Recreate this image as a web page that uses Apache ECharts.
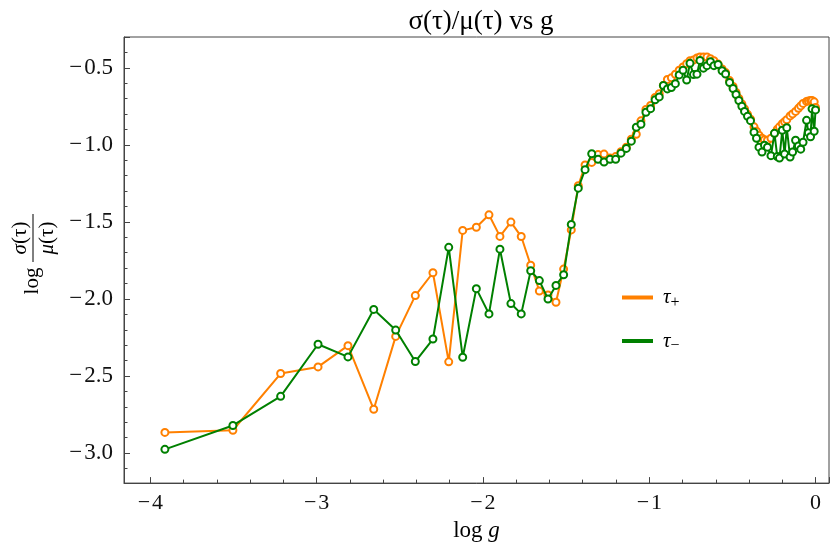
<!DOCTYPE html>
<html>
<head>
<meta charset="utf-8">
<script src="https://cdn.jsdelivr.net/npm/echarts@6/dist/echarts.min.js"></script>
<style>
html,body{margin:0;padding:0;background:#fff;}
#chart{width:830px;height:547px;}
</style>
</head>
<body>
<div id="chart"></div>
<script>
// log g values (shared grid for both series)
var logG = [
  -3.913, -3.504, -3.217, -2.992, -2.812, -2.657, -2.525, -2.407, -2.301, -2.206,
  -2.122, -2.040, -1.964, -1.898, -1.832, -1.770, -1.713, -1.661, -1.609, -1.561,
  -1.515, -1.469, -1.427,
  -1.386, -1.346, -1.308, -1.272, -1.236, -1.202, -1.170, -1.138, -1.108, -1.078,
  -1.050, -1.020, -0.992, -0.965, -0.940, -0.915, -0.891, -0.867, -0.843, -0.820,
  -0.797, -0.775, -0.755, -0.734, -0.713, -0.695, -0.674, -0.653, -0.632, -0.611,
  -0.586, -0.562, -0.541, -0.517, -0.496, -0.478, -0.461, -0.443, -0.427, -0.409,
  -0.391, -0.370, -0.355, -0.340, -0.322, -0.307, -0.289, -0.268, -0.247, -0.230,
  -0.217, -0.200, -0.186, -0.173, -0.153, -0.138, -0.120, -0.103, -0.089, -0.075,
  -0.054, -0.043, -0.030, -0.021, -0.008, 0.000
];
// log sigma/mu for tau+
var tauPlus = [
  -2.866, -2.852, -2.484, -2.441, -2.303, -2.716, -2.243, -1.978, -1.830, -2.408,
  -1.555, -1.535, -1.454, -1.594, -1.501, -1.595, -1.781, -1.948, -1.974, -2.021,
  -1.806, -1.552, -1.265,
  -1.131, -1.114, -1.063, -1.060, -1.086, -1.076, -1.045, -1.015, -0.963, -0.931,
  -0.844, -0.770, -0.744, -0.692, -0.668, -0.615, -0.576, -0.565, -0.542, -0.515,
  -0.495, -0.473, -0.454, -0.450, -0.436, -0.430, -0.430, -0.430, -0.441, -0.454,
  -0.476, -0.508, -0.531, -0.583, -0.621, -0.660, -0.699, -0.734, -0.766, -0.802,
  -0.834, -0.883, -0.912, -0.937, -0.957, -0.966, -0.970, -0.957, -0.925, -0.899,
  -0.883, -0.863, -0.850, -0.837, -0.812, -0.799, -0.783, -0.763, -0.747, -0.731,
  -0.718, -0.715, -0.712, -0.712, -0.721, -0.757
];
// log sigma/mu for tau-
var tauMinus = [
  -2.976, -2.821, -2.632, -2.294, -2.376, -2.068, -2.202, -2.406, -2.260, -1.665,
  -2.378, -1.933, -2.097, -1.677, -2.030, -2.097, -1.817, -1.881, -2.000, -1.912,
  -1.843, -1.516, -1.281,
  -1.161, -1.058, -1.094, -1.112, -1.094, -1.094, -1.054, -1.023, -0.976, -0.886,
  -0.866, -0.788, -0.765, -0.708, -0.689, -0.615, -0.637, -0.628, -0.603, -0.546,
  -0.516, -0.579, -0.471, -0.544, -0.541, -0.452, -0.502, -0.486, -0.460, -0.486,
  -0.479, -0.519, -0.540, -0.595, -0.634, -0.673, -0.712, -0.750, -0.783, -0.815,
  -0.843, -0.918, -0.957, -1.015, -1.047, -1.002, -1.015, -1.070, -0.925, -1.076,
  -1.086, -0.905, -1.060, -0.889, -1.079, -1.047, -0.970, -1.008, -1.028, -0.983,
  -0.841, -0.921, -0.947, -0.766, -0.912, -0.773
];

function pairs(xs, ys) { return xs.map(function (x, i) { return [x, ys[i]]; }); }

var ORANGE = '#ff8000', GREEN = '#008000', FRAME = '#444', FONT = 'Liberation Serif';
var chart = echarts.init(document.getElementById('chart'), null, {renderer: 'canvas'});

function minus(s) { return s.replace('-', '\u2212\u200a'); }

chart.setOption({
  animation: false,
  backgroundColor: '#fff',
  title: {
    text: '\u03c3(\u03c4)/\u03bc(\u03c4) vs g',
    left: 476, top: 3, textAlign: 'center',
    textStyle: {fontFamily: FONT, fontSize: 27, fontWeight: 'normal', color: '#000'}
  },
  grid: {left: 124, top: 37, right: 1, bottom: 61, show: true, borderColor: FRAME, borderWidth: 1, containLabel: false},
  legend: {
    orient: 'vertical', left: 622, top: 287, padding: 0,
    itemWidth: 29, itemHeight: 2, itemGap: 19, icon: 'rect',
    data: [
      {name: 'tp', itemStyle: {color: ORANGE}},
      {name: 'tm', itemStyle: {color: GREEN}}
    ],
    formatter: function (n) { return n === 'tp' ? '{t|\u03c4}{s|+}' : '{t|\u03c4}{s|\u2212}'; },
    textStyle: {
      padding: [0, 0, 0, 6],
      rich: {
        t: {fontFamily: FONT, fontStyle: 'italic', fontSize: 21, color: '#000', lineHeight: 28, verticalAlign: 'middle'},
        s: {fontFamily: FONT, fontSize: 16, color: '#000', lineHeight: 28, verticalAlign: 'bottom', padding: [0, 0, 1, 0]}
      }
    }
  },
  xAxis: {
    type: 'value', min: -4.159, max: 0.081, minInterval: 1, maxInterval: 1,
    name: '{r|log }{i|g}', nameLocation: 'middle', nameGap: 25,
    nameTextStyle: {rich: {
      r: {fontFamily: FONT, fontSize: 23, color: '#000'},
      i: {fontFamily: FONT, fontSize: 23, fontStyle: 'italic', color: '#000'}
    }},
    axisLine: {show: true, onZero: false, lineStyle: {color: FRAME, width: 1}},
    axisTick: {show: true, inside: true, length: 6, lineStyle: {color: FRAME}},
    minorTick: {show: true, splitNumber: 5, length: 3.5, lineStyle: {color: FRAME}},
    splitLine: {show: false},
    axisLabel: {
      showMinLabel: false, showMaxLabel: false, margin: 9,
      fontFamily: FONT, fontSize: 22, color: '#111',
      formatter: function (v) { return minus(String(Math.round(v))); }
    }
  },
  yAxis: {
    type: 'value', min: -3.195, max: -0.3, minInterval: 0.5, maxInterval: 0.5,
    axisLine: {show: true, onZero: false, lineStyle: {color: FRAME, width: 1}},
    axisTick: {show: true, inside: true, length: 6, lineStyle: {color: FRAME}},
    minorTick: {show: true, splitNumber: 5, length: 3.5, lineStyle: {color: FRAME}},
    splitLine: {show: false},
    axisLabel: {
      showMinLabel: false, showMaxLabel: false, margin: 11,
      fontFamily: FONT, fontSize: 23, color: '#111',
      formatter: function (v) { return minus(v.toFixed(1)); }
    }
  },
  graphic: [{
    type: 'group', x: 33, y: 238, rotation: Math.PI / 2,
    children: [
      {type: 'line', shape: {x1: -24, y1: 0, x2: 24, y2: 0}, style: {stroke: '#000', lineWidth: 1}},
      {type: 'text', x: 0, y: -13, style: {
        text: '{i|\u03c3}(\u03c4)', fontFamily: FONT, fontSize: 21, fill: '#000',
        align: 'center', verticalAlign: 'middle',
        rich: {i: {fontFamily: FONT, fontSize: 21, fontStyle: 'italic'}}
      }},
      {type: 'text', x: 0, y: 14, style: {
        text: '{i|\u03bc}(\u03c4)', fontFamily: FONT, fontSize: 21, fill: '#000',
        align: 'center', verticalAlign: 'middle',
        rich: {i: {fontFamily: FONT, fontSize: 21, fontStyle: 'italic'}}
      }},
      {type: 'text', x: -43, y: -1, style: {
        text: 'log', fontFamily: FONT, fontSize: 21, fill: '#000',
        align: 'center', verticalAlign: 'middle'
      }}
    ]
  }],
  series: [
    {
      name: 'tp', type: 'line', data: pairs(logG, tauPlus),
      symbol: 'emptyCircle', symbolSize: 7, showSymbol: true,
      lineStyle: {color: ORANGE, width: 2},
      itemStyle: {color: ORANGE, borderColor: ORANGE, borderWidth: 1.5},
      emphasis: {disabled: true}, z: 2
    },
    {
      name: 'tm', type: 'line', data: pairs(logG, tauMinus),
      symbol: 'emptyCircle', symbolSize: 7, showSymbol: true,
      lineStyle: {color: GREEN, width: 2},
      itemStyle: {color: GREEN, borderColor: GREEN, borderWidth: 1.5},
      emphasis: {disabled: true}, z: 3
    }
  ]
});
</script>
</body>
</html>
